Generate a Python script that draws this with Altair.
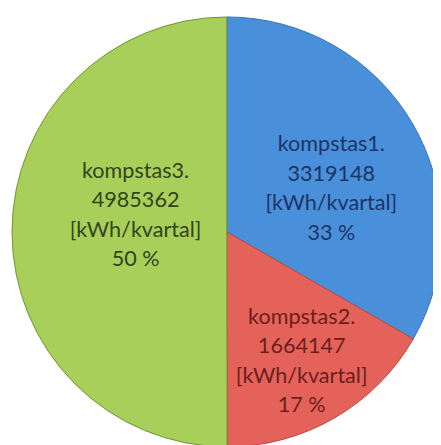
import altair as alt
import pandas as pd

categories = ["kompstas1", "kompstas2", "kompstas3"]
values = [3319148, 1664147, 4985362]
percents = ["33 %", "17 %", "50 %"]
unit = "[kWh/kvartal]"

slice_colors = ["#4a8fd9", "#e4625a", "#a8cf5a"]
edge_colors = ["#3a74b4", "#b8483f", "#6f9433"]
text_colors = ["#1b3566", "#6b1f1c", "#33441a"]

df = pd.DataFrame({
    "cat": categories,
    "value": values,
    "idx": list(range(len(categories))),
    "label": [f"{c}.\n{v}\n{unit}\n{p}" for c, v, p in zip(categories, values, percents)],
})

CX, CY, R = 223, 224, 219

base = alt.Chart(df).encode(
    theta=alt.Theta("value:Q", stack=True),
    order=alt.Order("idx:Q"),
    x=alt.value(CX),
    y=alt.value(CY),
)

pie = base.mark_arc(outerRadius=R, strokeWidth=1).encode(
    color=alt.Color("cat:N", scale=alt.Scale(domain=categories, range=slice_colors), legend=None),
    stroke=alt.Stroke("cat:N", scale=alt.Scale(domain=categories, range=edge_colors), legend=None),
)

# per-label placement (radius along slice midpoint + small offsets); first line sits at anchor
placement = {
    "kompstas1": dict(radius=116, dx=6, dy=-31),
    "kompstas2": dict(radius=150, dx=1, dy=-43),
    "kompstas3": dict(radius=94, dx=1, dy=-62),
}

layers = [pie]
for cat, tcol in zip(categories, text_colors):
    p = placement[cat]
    t = base.transform_calculate(
        t=f"datum.cat == '{cat}' ? datum.label : ''"
    ).mark_text(
        radius=p["radius"], dx=p["dx"], dy=p["dy"],
        font="Lato", fontSize=22, color=tcol,
        lineBreak="\n", lineHeight=30, align="center", baseline="middle",
    ).encode(text="t:N")
    layers.append(t)

chart = alt.layer(*layers).properties(
    width=433, height=437, padding=0, autosize="none", background="white"
).configure_view(stroke=None)

chart.save("out.html", embed_options={"renderer": "svg", "actions": False})
